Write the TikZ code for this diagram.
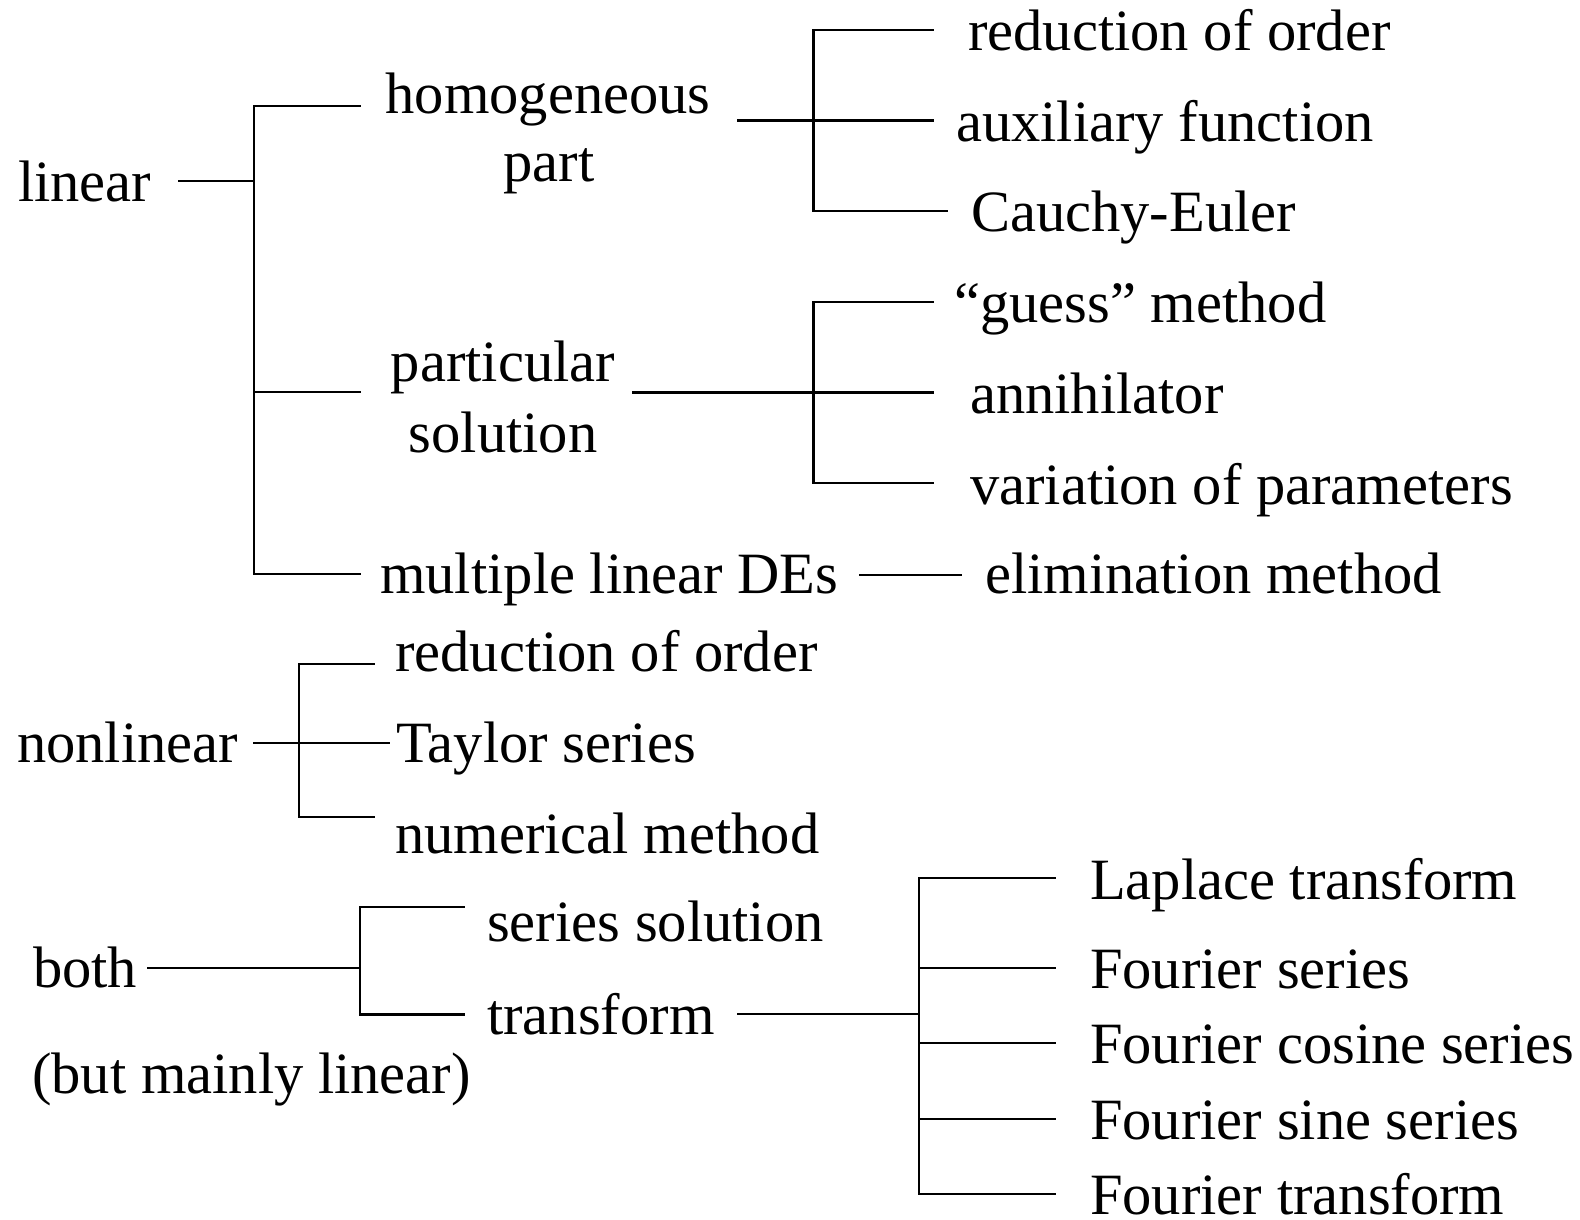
\documentclass[tikz,border=0pt]{standalone}
\usepackage{fontspec}
\setmainfont{Liberation Serif}
\begin{document}
\begin{tikzpicture}[x=1pt,y=-1pt,
  lbl/.style={anchor=base west,inner sep=0pt,font=\fontsize{58.5}{70}\selectfont},
  lblc/.style={anchor=base,inner sep=0pt,font=\fontsize{58.5}{70}\selectfont},
  conn/.style={line width=2.2pt,line cap=rect}]
\useasboundingbox[fill=white] (0,0) rectangle (1580,1219);
% texts
\node[lbl] (linear) at (18,201) {linear};
\node[lblc] (homog) at (548,113) {homogeneous};
\node[lblc] (homog2) at (549,181) {part};
\node[lblc] (partic) at (503,381) {particular};
\node[lblc] (partic2) at (503,452.5) {solution};
\node[lbl] (multi) at (380,593) {multiple linear DEs};
\node[lbl] (red1) at (968,50) {reduction of order};
\node[lbl] (aux) at (956,141) {auxiliary function};
\node[lbl] (cauchy) at (971,231) {Cauchy-Euler};
\node[lbl] (guess) at (954,322) {“guess” method};
\node[lbl] (annih) at (970,413) {annihilator};
\node[lbl] (varpar) at (970,504) {variation of parameters};
\node[lbl] (elim) at (985,593) {elimination method};
\node[lbl] (nonlin) at (17,762) {nonlinear};
\node[lbl] (red2) at (395,671) {reduction of order};
\node[lbl] (taylor) at (396,762) {Taylor series};
\node[lbl] (numer) at (395,853) {numerical method};
\node[lbl] (both) at (33,987) {both};
\node[lbl] (mainly) at (32,1093) {(but mainly linear)};
\node[lbl] (series) at (487,941.5) {series solution};
\node[lbl] (transf) at (487,1034) {transform};
\node[lbl] (lap) at (1090,899) {Laplace transform};
\node[lbl] (fs) at (1090,988) {Fourier series};
\node[lbl] (fcs) at (1090,1063) {Fourier cosine series};
\node[lbl] (fss) at (1090,1139) {Fourier sine series};
\node[lbl] (ft) at (1090,1214) {Fourier transform};
% junction coordinates
\coordinate (a0) at (179,181);
\coordinate (a1) at (254,106); \coordinate (a1e) at (360,106);
\coordinate (a2) at (254,181);
\coordinate (a3) at (254,392); \coordinate (a3e) at (360,392);
\coordinate (a4) at (254,574); \coordinate (a4e) at (360,574);
\coordinate (h0) at (738,120.5); \coordinate (h0e) at (933,120.5);
\coordinate (h1) at (813.5,29.6); \coordinate (h1e) at (933,29.6);
\coordinate (h3) at (813.5,210.7); \coordinate (h3e) at (947,210.7);
\coordinate (p0) at (633,392.5); \coordinate (p0e) at (933,392.5);
\coordinate (p1) at (813.5,302); \coordinate (p1e) at (933,302);
\coordinate (p3) at (813.5,483); \coordinate (p3e) at (933,483);
\coordinate (m0) at (860,575); \coordinate (m0e) at (961,575);
\coordinate (n0) at (254,743); \coordinate (n0e) at (389,743);
\coordinate (n1) at (299,664); \coordinate (n1e) at (374,664);
\coordinate (n3) at (299,817); \coordinate (n3e) at (374,817);
\coordinate (b0) at (148,968); \coordinate (b0e) at (360,968);
\coordinate (b1) at (360,907); \coordinate (b1e) at (464,907);
\coordinate (b3) at (360,1014.5); \coordinate (b3e) at (464,1014.5);
\coordinate (t0) at (738,1014); \coordinate (t0e) at (919,1014);
\coordinate (t1) at (919,878); \coordinate (t1e) at (1055,878);
\coordinate (t2) at (919,968); \coordinate (t2e) at (1055,968);
\coordinate (t3) at (919,1043); \coordinate (t3e) at (1055,1043);
\coordinate (t4) at (919,1119); \coordinate (t4e) at (1055,1119);
\coordinate (t5) at (919,1194); \coordinate (t5e) at (1055,1194);
% connectors
\draw[conn] (a0) -- (a2);
\draw[conn] (a1e) -- (a1) -- (a4) -- (a4e);
\draw[conn] (a3) -- (a3e);
\draw[conn] (h0) -- (h0e);
\draw[conn] (h1e) -- (h1) -- (h3) -- (h3e);
\draw[conn] (p0) -- (p0e);
\draw[conn] (p1e) -- (p1) -- (p3) -- (p3e);
\draw[conn] (m0) -- (m0e);
\draw[conn] (n0) -- (n0e);
\draw[conn] (n1e) -- (n1) -- (n3) -- (n3e);
\draw[conn] (b0) -- (b0e);
\draw[conn] (b1e) -- (b1) -- (b3) -- (b3e);
\draw[conn] (t0) -- (t0e);
\draw[conn] (t1e) -- (t1) -- (t5) -- (t5e);
\draw[conn] (t2) -- (t2e);
\draw[conn] (t3) -- (t3e);
\draw[conn] (t4) -- (t4e);
\end{tikzpicture}
\end{document}
